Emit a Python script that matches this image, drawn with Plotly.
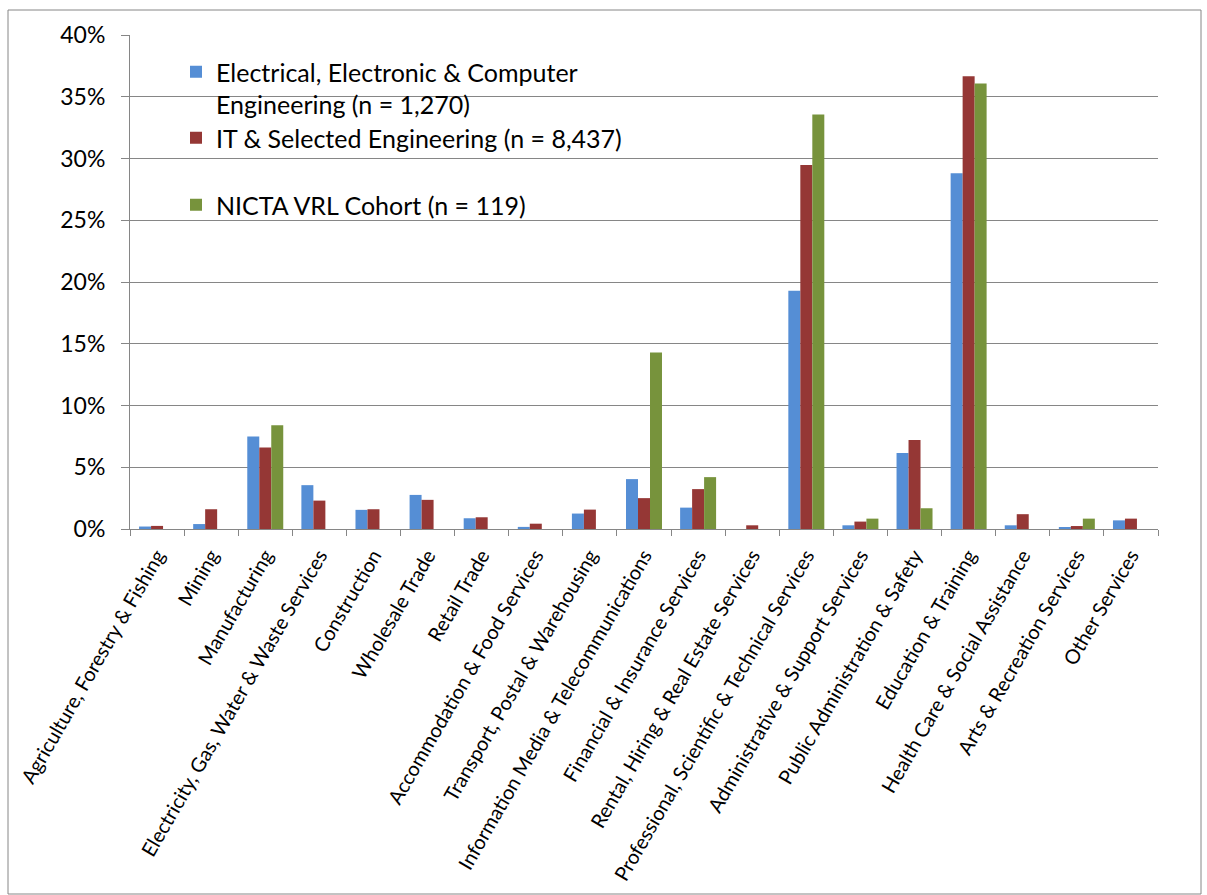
import plotly.graph_objects as go

categories = [
    "Agriculture, Forestry & Fishing", "Mining", "Manufacturing",
    "Electricity, Gas, Water & Waste Services", "Construction", "Wholesale Trade",
    "Retail Trade", "Accommodation & Food Services", "Transport, Postal & Warehousing",
    "Information Media & Telecommunications", "Financial & Insurance Services",
    "Rental, Hiring & Real Estate Services", "Professional, Scientific & Technical Services",
    "Administrative & Support Services", "Public Administration & Safety",
    "Education & Training", "Health Care & Social Assistance",
    "Arts & Recreation Services", "Other Services",
]
eec = [0.2, 0.4, 7.5, 3.55, 1.55, 2.76, 0.87, 0.17, 1.25, 4.04, 1.73, 0.0,
       19.3, 0.3, 6.16, 28.8, 0.3, 0.15, 0.7]
it_sel = [0.25, 1.6, 6.6, 2.3, 1.6, 2.36, 0.95, 0.43, 1.57, 2.5, 3.23, 0.3,
          29.47, 0.6, 7.2, 36.67, 1.2, 0.24, 0.84]
nicta = [0.0, 0.0, 8.4, 0.0, 0.0, 0.0, 0.0, 0.0, 0.0, 14.3, 4.2, 0.0,
         33.57, 0.84, 1.68, 36.08, 0.0, 0.84, 0.0]
names = ["Electrical, Electronic & Computer<br>Engineering (n = 1,270)",
         "IT & Selected Engineering (n = 8,437)",
         "NICTA VRL Cohort (n = 119)"]
colors = ["#558ED5", "#953735", "#77933C"]

W, H = 1207, 895
L, R, T, B = 130, 1158, 35, 529
FONT = "Lato, 'Open Sans', sans-serif"
GRAY = "#868686"

legend_ids = ["legend", "legend2", "legend3"]
legend_tops = [49, 115, 182]

fig = go.Figure()
for vals, name, col, lg in zip([eec, it_sel, nicta], names, colors, legend_ids):
    fig.add_trace(go.Bar(x=categories, y=vals, name=name, marker_color=col,
                         marker_line_width=0, legend=lg))

def px(x):
    return (x - L) / (R - L)

def py(y):
    return (B - y) / (B - T)

fig.add_shape(type="rect", xref="paper", yref="paper",
              x0=px(8), x1=px(1201), y0=py(10), y1=py(894),
              line=dict(color=GRAY, width=1), fillcolor="rgba(0,0,0,0)", layer="below")

legends = {}
for lg, top in zip(legend_ids, legend_tops):
    legends[lg] = dict(xref="container", yref="container", x=176 / W, y=1 - top / H,
                       xanchor="left", yanchor="top", valign="top",
                       font=dict(size=25, family=FONT, color="black"),
                       bgcolor="rgba(0,0,0,0)")

fig.update_layout(
    width=W, height=H,
    margin=dict(l=L, r=W - R, t=T, b=H - B, autoexpand=False),
    paper_bgcolor="white", plot_bgcolor="white",
    barmode="group", bargap=0.335, bargroupgap=0,
    font=dict(family=FONT, color="black"),
    showlegend=True,
    **legends,
)
fig.update_xaxes(type="category", tickangle=-60, ticks="outside", tickson="boundaries",
                 ticklen=6, tickcolor=GRAY, showline=True, linecolor=GRAY, linewidth=1,
                 showgrid=False, tickfont=dict(size=20, family=FONT, color="black"),
                 ticklabelstandoff=6, automargin=False)
fig.update_yaxes(range=[0, 40], dtick=5, ticksuffix="%", showgrid=True, gridcolor=GRAY,
                 gridwidth=1, ticks="outside", ticklen=8, tickcolor=GRAY, showline=True,
                 linecolor=GRAY, linewidth=1, zeroline=False,
                 tickfont=dict(size=23, family=FONT, color="black"),
                 ticklabelstandoff=11, automargin=False)

fig.write_html("out.html")
